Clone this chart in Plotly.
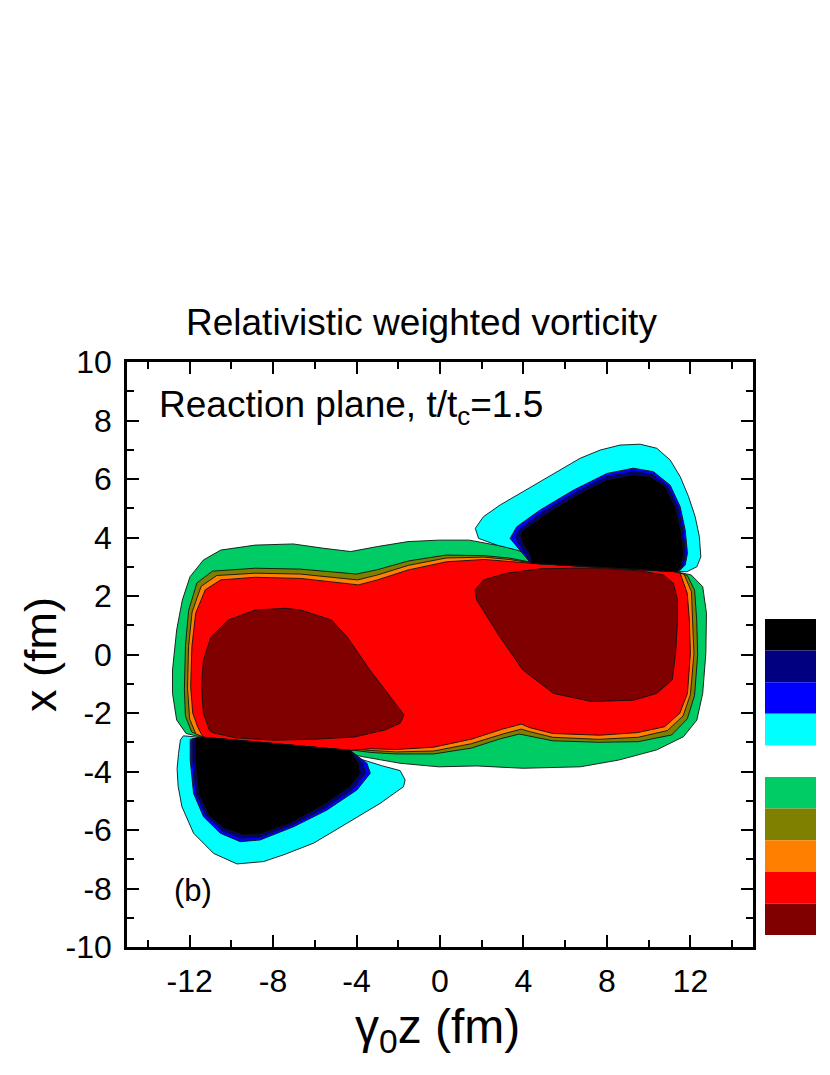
import plotly.graph_objects as go

# ---------------- data: contour region outlines (gamma0*z [fm], x [fm]) ----------------
GREEN_Z = [-12.82, -12.62, -12.35, -11.98, -11.34, -10.51, -8.86, -7.04, -5.56, -4.28, -3.00, -1.53, -0.06, 1.40, 3.06, 4.34,
           8.00, 11.31, 12.04, 12.59, 12.77, 12.74, 12.59, 12.31, 11.67, 10.39, 8.56, 6.72, 3.97, 1.77, -0.06, -1.90, -3.73,
           -4.46, -8.00, -11.52, -12.17, -12.62, -12.82]
GREEN_X = [-0.53, 0.84, 1.86, 2.66, 3.23, 3.57, 3.74, 3.78, 3.63, 3.52, 3.69, 3.86, 3.91, 3.91, 3.69, 3.46,
           3.00, 2.83, 2.72, 2.32, 1.41, 0.04, -1.33, -2.24, -2.81, -3.26, -3.61, -3.84, -3.89, -3.81, -3.84, -3.72, -3.49,
           -3.38, -3.10, -2.81, -2.70, -2.24, -1.33]

OLIVE_Z = [-12.25, -12.20, -12.05, -11.65, -10.90, -8.86, -6.70, -5.20, -4.00, -3.00, -1.50, 0.30, 2.10, 3.30, 4.40,
           11.30, 11.85, 12.20, 12.30, 12.35, 12.20, 11.85, 11.10, 9.50, 7.60, 5.40, 4.20, 3.80, 2.90, 1.50, -0.30, -2.10,
           -3.30, -4.40, -11.30, -11.90, -12.20]
OLIVE_X = [-1.20, 0.30, 1.50, 2.45, 2.85, 2.95, 2.92, 2.82, 2.75, 2.90, 3.20, 3.40, 3.38, 3.30, 3.15,
           2.83, 2.70, 2.20, 1.20, 0.00, -1.40, -2.20, -2.75, -2.98, -3.00, -2.95, -2.78, -2.72, -2.88, -3.20, -3.40, -3.40,
           -3.35, -3.25, -2.83, -2.65, -2.10]

ORANGE_Z = [-12.10, -12.05, -11.88, -11.45, -10.70, -8.86, -6.70, -5.20, -3.95, -3.00, -1.50, 0.30, 2.10, 3.30, 4.40,
            11.30, 11.70, 12.05, 12.12, 12.17, 12.00, 11.65, 10.90, 9.50, 7.60, 5.40, 4.20, 3.90, 3.00, 1.50, -0.30, -2.10,
            -3.30, -4.40, -11.30, -11.70, -12.00]
ORANGE_X = [-1.15, 0.28, 1.45, 2.33, 2.70, 2.78, 2.75, 2.65, 2.55, 2.72, 3.05, 3.30, 3.33, 3.25, 3.13,
            2.83, 2.74, 2.15, 1.18, 0.02, -1.37, -2.10, -2.60, -2.83, -2.90, -2.83, -2.62, -2.55, -2.72, -3.05, -3.30, -3.33,
            -3.28, -3.22, -2.83, -2.72, -2.20]

RED_Z = [-11.95, -11.89, -11.71, -11.25, -10.51, -8.86, -6.67, -5.19, -3.91, -3.00, -1.53, 0.31, 2.13, 3.30, 4.40,
         11.20, 11.51, 11.85, 11.95, 12.00, 11.86, 11.49, 10.76, 9.47, 7.64, 5.40, 4.30, 3.90, 3.00, 1.53, -0.31, -2.13,
         -3.30, -4.30, -11.35, -11.60, -11.85]
RED_X = [-1.10, 0.27, 1.41, 2.21, 2.55, 2.64, 2.60, 2.49, 2.38, 2.55, 2.89, 3.17, 3.25, 3.18, 3.12,
         2.83, 2.78, 2.09, 1.18, 0.04, -1.33, -2.01, -2.47, -2.67, -2.76, -2.70, -2.50, -2.38, -2.55, -2.89, -3.17, -3.25,
         -3.22, -3.28, -2.83, -2.50, -2.00]

MAROON_L_Z = [-7.40, -8.86, -10.15, -10.97, -11.34, -11.43, -11.34, -11.06, -10.88, -9.78, -7.95, -6.11, -4.10, -2.63,
              -1.91, -1.72, -2.26, -3.36, -4.46, -5.20, -6.67]
MAROON_L_X = [1.58, 1.52, 1.18, 0.61, -0.19, -1.10, -2.01, -2.58, -2.68, -2.85, -2.93, -2.90, -2.82, -2.58,
              -2.35, -2.07, -1.56, -0.53, 0.61, 1.18, 1.52]

MAROON_R_Z = [1.68, 2.08, 3.20, 4.80, 7.20, 9.59, 10.71, 11.19, 11.38, 11.38, 11.30, 11.13, 10.39, 9.29, 7.27, 5.44,
              3.97, 2.86, 1.76]
MAROON_R_X = [2.21, 2.55, 2.78, 2.93, 2.96, 2.86, 2.72, 2.43, 1.86, 1.18, 0.10, -0.87, -1.33, -1.56, -1.61, -1.33,
              -0.53, 0.61, 1.86]

CYAN_UR_Z = [1.69, 2.08, 2.88, 3.84, 4.80, 5.76, 6.72, 7.68, 8.63, 9.59, 10.39, 11.03, 11.51, 11.91, 12.23, 12.43,
             12.50, 12.31, 11.83, 4.40, 4.40, 3.68, 2.73, 1.85]
CYAN_UR_X = [4.31, 4.71, 5.11, 5.51, 5.91, 6.31, 6.71, 6.99, 7.16, 7.19, 7.05, 6.65, 6.08, 5.40, 4.71, 4.03,
             3.34, 3.00, 2.83, 3.12, 3.40, 3.57, 3.74, 3.97]
BLUE_UR_Z = [4.35, 3.36, 3.68, 4.80, 6.40, 8.00, 9.27, 10.23, 11.03, 11.51, 11.75, 11.86, 11.75, 11.43]
BLUE_UR_X = [3.12, 3.97, 4.37, 4.94, 5.62, 6.19, 6.37, 6.25, 5.79, 5.05, 4.26, 3.46, 3.06, 2.83]
NAVY_UR_Z = [4.35, 3.60, 3.85, 4.95, 6.55, 8.00, 9.27, 10.15, 10.90, 11.39, 11.64, 11.76, 11.65, 11.39]
NAVY_UR_X = [3.12, 4.00, 4.30, 4.88, 5.56, 6.08, 6.25, 6.16, 5.76, 5.05, 4.26, 3.46, 3.03, 2.83]
BLACK_UR_Z = [4.40, 4.32, 4.00, 3.84, 4.00, 5.12, 6.72, 8.00, 9.27, 10.07, 10.79, 11.27, 11.54, 11.67, 11.54, 11.35]
BLACK_UR_X = [3.12, 3.40, 3.75, 4.09, 4.26, 4.83, 5.51, 5.97, 6.14, 6.08, 5.74, 5.05, 4.26, 3.46, 3.00, 2.83]

CYAN_LL_Z = [-12.30, -12.44, -12.53, -12.60, -12.55, -12.37, -11.81, -10.85, -9.73, -8.46, -7.50, -6.06, -4.46, -2.87,
             -1.75, -1.67, -1.91, -2.80, -3.70, -4.30, -4.30, -11.35]
CYAN_LL_X = [-2.78, -2.92, -3.38, -3.90, -4.50, -5.20, -6.11, -6.80, -7.16, -7.08, -6.85, -6.45, -5.77, -5.09,
             -4.52, -4.29, -3.97, -3.80, -3.60, -3.45, -3.28, -2.83]
BLUE_LL_Z = [-11.97, -11.97, -11.81, -11.33, -10.53, -9.57, -8.62, -7.02, -5.42, -3.98, -3.34, -3.50, -4.30, -11.35]
BLUE_LL_X = [-2.90, -3.61, -4.75, -5.55, -6.11, -6.40, -6.34, -5.89, -5.32, -4.63, -4.06, -3.72, -3.28, -2.83]
NAVY_LL_Z = [-11.85, -11.85, -11.69, -11.20, -10.45, -9.50, -8.62, -7.10, -5.50, -4.14, -3.58, -3.70, -4.30, -11.35]
NAVY_LL_X = [-2.88, -3.61, -4.75, -5.52, -6.02, -6.28, -6.24, -5.83, -5.24, -4.58, -4.06, -3.72, -3.28, -2.83]
BLACK_LL_Z = [-11.73, -11.73, -11.57, -11.09, -10.37, -9.42, -8.62, -7.18, -5.58, -4.30, -3.82, -3.90, -4.30, -11.35]
BLACK_LL_X = [-2.86, -3.61, -4.75, -5.49, -5.94, -6.17, -6.14, -5.77, -5.15, -4.52, -4.06, -3.72, -3.28, -2.83]

# legend (contour level boxes, top to bottom; None = empty slot)
LEVEL_COLORS = ["#000000", "#000080", "#0000FF", "#00FFFF", None,
                "#00CC66", "#808000", "#FF8000", "#FF0000", "#800000"]
LEVEL_LABELS = ["-0.20", "-0.10", "-0.05", "-0.01", "0.01", "0.05", "0.10", "0.20", "3.00"]

X_TICKS = [-12, -8, -4, 0, 4, 8, 12]
Y_TICKS = [-10, -8, -6, -4, -2, 0, 2, 4, 6, 8, 10]

# ---------------- layout geometry (page has an 8px body margin) ----------------
OFF = 8
W, H = 830, 1075
ML, MR, MT, MB = 127 - OFF, 0, 362 - OFF, 1075 - (947 - OFF)
PW = W - ML - MR
PH = H - MT - MB


def px(x):
    return (x - OFF - ML) / PW


def py(y):
    return (H - MB - (y - OFF)) / PH


FONT = "Liberation Sans, Arial, sans-serif"

fig = go.Figure()

regions = [
    (GREEN_Z, GREEN_X, "#00CC66"),
    (OLIVE_Z, OLIVE_X, "#808000"),
    (ORANGE_Z, ORANGE_X, "#FF8000"),
    (RED_Z, RED_X, "#FF0000"),
    (MAROON_L_Z, MAROON_L_X, "#800000"),
    (MAROON_R_Z, MAROON_R_X, "#800000"),
    (CYAN_UR_Z, CYAN_UR_X, "#00FFFF"),
    (BLUE_UR_Z, BLUE_UR_X, "#0000FF"),
    (NAVY_UR_Z, NAVY_UR_X, "#000080"),
    (BLACK_UR_Z, BLACK_UR_X, "#000000"),
    (CYAN_LL_Z, CYAN_LL_X, "#00FFFF"),
    (BLUE_LL_Z, BLUE_LL_X, "#0000FF"),
    (NAVY_LL_Z, NAVY_LL_X, "#000080"),
    (BLACK_LL_Z, BLACK_LL_X, "#000000"),
]
for zs, xs, col in regions:
    fig.add_trace(go.Scatter(
        x=zs + zs[:1], y=xs + xs[:1], mode="lines", fill="toself",
        fillcolor=col, line=dict(color="#111111", width=0.9),
        hoverinfo="skip", showlegend=False, xaxis="x", yaxis="y"))

# legend boxes as bars on a secondary axis
n = len(LEVEL_COLORS)
for i, col in enumerate(LEVEL_COLORS):
    if col is None:
        continue
    fig.add_trace(go.Bar(x=[0], y=[1], base=[n - 1 - i], width=[1],
                         marker=dict(color=col, line=dict(width=0)),
                         xaxis="x2", yaxis="y2", showlegend=False, hoverinfo="skip"))

axis_common = dict(
    showline=True, linewidth=2.5, linecolor="black", mirror="allticks",
    ticks="inside", ticklen=12, tickwidth=2, tickcolor="black",
    showgrid=False, zeroline=False,
    tickfont=dict(family=FONT, size=32, color="black"),
)

fig.update_layout(
    width=W, height=H,
    margin=dict(l=ML, r=MR, t=MT, b=MB, pad=0),
    paper_bgcolor="white", plot_bgcolor="white",
    barmode="overlay",
    xaxis=dict(domain=[0, 626 / PW], range=[-15, 15], tickvals=X_TICKS,
               ticktext=[str(v) for v in X_TICKS], ticklabelstandoff=4,
               minor=dict(ticks="inside", ticklen=7, tickwidth=2, tickcolor="black", dtick=2, tick0=0, showgrid=False),
               **axis_common),
    yaxis=dict(domain=[0, 1], range=[-10, 10], tickvals=Y_TICKS,
               ticktext=[str(v) for v in Y_TICKS], ticklabelstandoff=6,
               minor=dict(ticks="inside", ticklen=7, tickwidth=2, tickcolor="black", dtick=1, tick0=0, showgrid=False),
               **axis_common),
    xaxis2=dict(domain=[px(765), px(816)], range=[-0.5, 0.5], visible=False, anchor="y2"),
    yaxis2=dict(domain=[py(935), py(619)], range=[0, n], visible=False, anchor="x2"),
)

annotations = [
    dict(text="Relativistic weighted vorticity", x=px(421), y=py(322), font=dict(size=37)),
    dict(text="Reaction plane, t/t<sub>c</sub>=1.5", x=px(157), y=py(407), xanchor="left", font=dict(size=37)),
    dict(text="(b)", x=px(193), y=py(890), font=dict(size=31)),
    dict(text="γ<sub>0</sub>z (fm)", x=px(437), y=py(1030), font=dict(size=48)),
    dict(text="x (fm)", x=px(40), y=py(655), textangle=-90, font=dict(size=45)),
]
label_y = [662, 688, 715, 742, 778, 805, 833, 860, 887]
for t, yy in zip(LEVEL_LABELS, label_y):
    annotations.append(dict(text=t, x=px(826), y=py(yy), xanchor="left", font=dict(size=24)))

for a in annotations:
    a.setdefault("xanchor", "center")
    a.update(xref="paper", yref="paper", yanchor="middle", showarrow=False)
    a["font"].update(family=FONT, color="black")
fig.update_layout(annotations=annotations)

fig.write_html("out.html")
